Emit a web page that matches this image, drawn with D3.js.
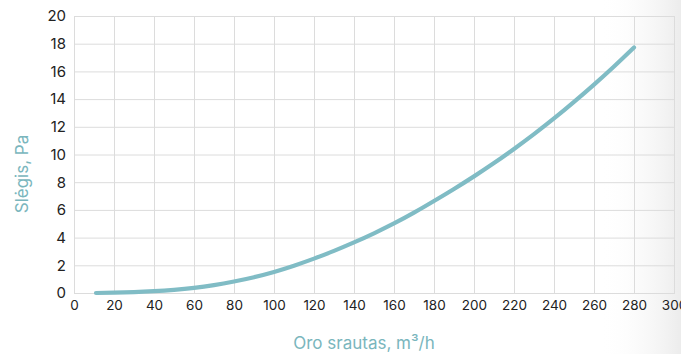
<!DOCTYPE html>
<html><head><meta charset="utf-8">
<script src="https://cdn.jsdelivr.net/npm/d3@7"></script>
<style>
html,body{margin:0;padding:0;background:#fff;}
svg{display:block;}
text{font-family:"Inter","Open Sans",sans-serif;}
</style></head>
<body>
<svg id="c" width="681" height="354"></svg>
<script>
const flow = [11, 20, 30, 40, 50, 60, 70, 80, 90, 100, 110, 120, 130, 140, 150, 160, 170, 180, 190, 200, 210, 220, 230, 240, 250, 260, 270, 280];
const pressure = [0.0, 0.02, 0.06, 0.13, 0.23, 0.37, 0.57, 0.83, 1.14, 1.52, 1.97, 2.48, 3.04, 3.65, 4.31, 5.02, 5.80, 6.64, 7.51, 8.42, 9.38, 10.40, 11.47, 12.60, 13.80, 15.05, 16.36, 17.73];
const xTicks = [0, 20, 40, 60, 80, 100, 120, 140, 160, 180, 200, 220, 240, 260, 280, 300];
const yTicks = [0, 2, 4, 6, 8, 10, 12, 14, 16, 18, 20];
const xTitle = "Oro srautas, m³/h";
const yTitle = "Slėgis, Pa";

const svg = d3.select("#c");
const W = 681, H = 354;
const m = {l: 74, r: 7, t: 16, b: 61};
const x = d3.scaleLinear().domain([0, 300]).range([m.l, W - m.r]);
const y = d3.scaleLinear().domain([0, 20]).range([H - m.b, m.t]);

// subtle right-edge shading
const defs = svg.append("defs");
const g0 = defs.append("linearGradient").attr("id", "sh").attr("x1", "0").attr("x2", "1");
g0.append("stop").attr("offset", "0").attr("stop-color", "#fff").attr("stop-opacity", 0);
g0.append("stop").attr("offset", "1").attr("stop-color", "#ececec").attr("stop-opacity", 1);
svg.append("rect").attr("x", 600).attr("y", 0).attr("width", 81).attr("height", H).attr("fill", "url(#sh)");

// grid
const grid = svg.append("g");
grid.selectAll("line.v").data(xTicks).join("line")
  .attr("x1", d => x(d) + 0.5).attr("x2", d => x(d) + 0.5)
  .attr("y1", y(20)).attr("y2", y(0))
  .attr("stroke", "#dcdcdc").attr("stroke-width", 1);
grid.selectAll("line.h").data(yTicks).join("line")
  .attr("x1", x(0)).attr("x2", x(300) + 1)
  .attr("y1", d => y(d) + 0.5).attr("y2", d => y(d) + 0.5)
  .attr("stroke", "#dcdcdc").attr("stroke-width", 1);

// axes
const xa = svg.append("g").attr("transform", `translate(0,${y(0)})`)
  .call(d3.axisBottom(x).tickValues(xTicks).tickSize(0).tickPadding(7));
xa.select(".domain").remove();
xa.selectAll("text").attr("font-size", 13.5).attr("fill", "#222");

const ya = svg.append("g").attr("transform", `translate(${x(0)},0)`)
  .call(d3.axisLeft(y).tickValues(yTicks).tickSize(0).tickPadding(8));
ya.select(".domain").remove();
ya.selectAll("text").attr("font-size", 15).attr("fill", "#222");

// curve
const pts = flow.map((f, i) => [f, pressure[i]]);
svg.append("path").datum(pts)
  .attr("fill", "none").attr("stroke", "#80bcc5").attr("stroke-width", 4.2)
  .attr("stroke-linecap", "round")
  .attr("d", d3.line().x(d => x(d[0])).y(d => y(d[1])).curve(d3.curveNatural));

// titles
svg.append("text").attr("x", 364).attr("y", 349).attr("text-anchor", "middle")
  .attr("font-size", 17).attr("fill", "#7ab6bd").text(xTitle);
svg.append("text").attr("transform", "translate(28,174) rotate(-90)").attr("text-anchor", "middle")
  .attr("font-size", 17).attr("fill", "#7ab6bd").text(yTitle);
</script>
</body></html>
